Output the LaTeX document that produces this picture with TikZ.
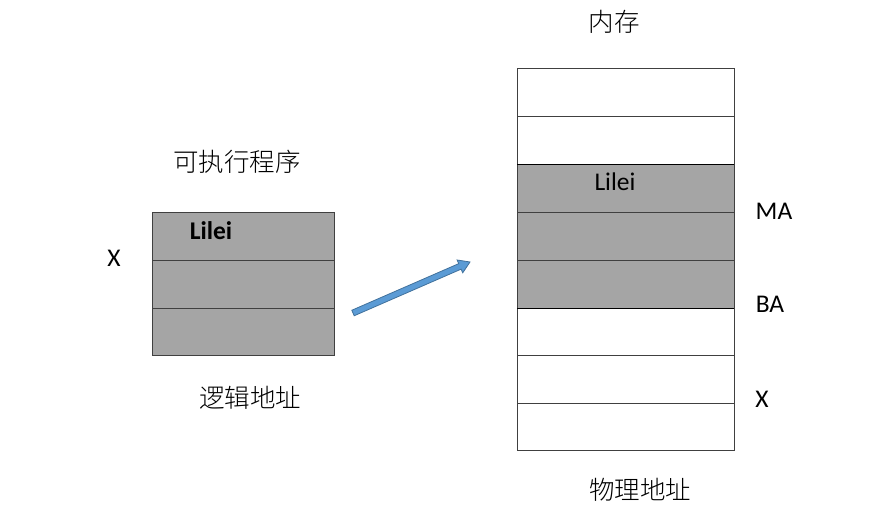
\documentclass[tikz,border=0pt]{standalone}
\usepackage{fontspec}
\usetikzlibrary{calc}
\setmainfont{Carlito}
\newfontfamily\cjk{Noto Sans CJK SC Light}
\definecolor{cellgray}{HTML}{A5A5A5}
\definecolor{arrowfill}{HTML}{5B9BD5}
\definecolor{arrowedge}{HTML}{41719C}
\begin{document}
\begin{tikzpicture}[x=1pt,y=-1pt,
  cell/.style={draw=black!75,line width=0.9pt},
  lbl/.style={font=\fontsize{25.5}{28}\selectfont,inner sep=0pt},
  clbl/.style={font=\cjk\fontsize{25.5}{28}\selectfont,inner sep=0pt}]
\useasboundingbox (0,0) rectangle (882,522);
% left box
\foreach \y/\h in {212/260,260/308,308/355}
  \draw[cell,fill=cellgray] (152,\y) rectangle (334,\h);
% right box
\foreach \y/\h in {68/116,116/164,308/355,355/403,403/450}
  \draw[cell,fill=white] (517,\y) rectangle (734,\h);
\foreach \y/\h in {164/212,212/260,260/308}
  \draw[cell,fill=cellgray] (517,\y) rectangle (734,\h);
\draw[black,line width=0.9pt] (517,164) -- (734,164) (517,308) -- (734,308);
% texts
\node[clbl] (exe) at (237,162) {可执行程序};
\node[lbl] (x1) at (114,258) {X};
\node[lbl,font=\bfseries\fontsize{25.5}{28}\selectfont] (lilei1) at (211,231) {Lilei};
\node[clbl] (logic) at (250,398) {逻辑地址};
\node[clbl] (mem) at (614,22) {内存};
\node[lbl] (lilei2) at (615,182) {Lilei};
\node[lbl] (ma) at (774,211) {MA};
\node[lbl] (ba) at (770,304) {BA};
\node[lbl] (x2) at (762,399) {X};
\node[clbl] (phys) at (640,490) {物理地址};
% arrow
\coordinate (as) at (353,313);
\coordinate (ae) at (470,262);
\coordinate (an) at ($(ae)!11pt!(as)$);
\draw[arrowedge,fill=arrowfill,line width=0.8pt]
  ($(as)!3pt!-90:(ae)$) -- ($(an)!3pt!90:(as)$)
  -- ($(an)!7pt!90:(as)$) -- (ae)
  -- ($(an)!7pt!-90:(as)$) -- ($(an)!3pt!-90:(as)$)
  -- ($(as)!3pt!90:(ae)$) -- cycle;
\end{tikzpicture}
\end{document}
